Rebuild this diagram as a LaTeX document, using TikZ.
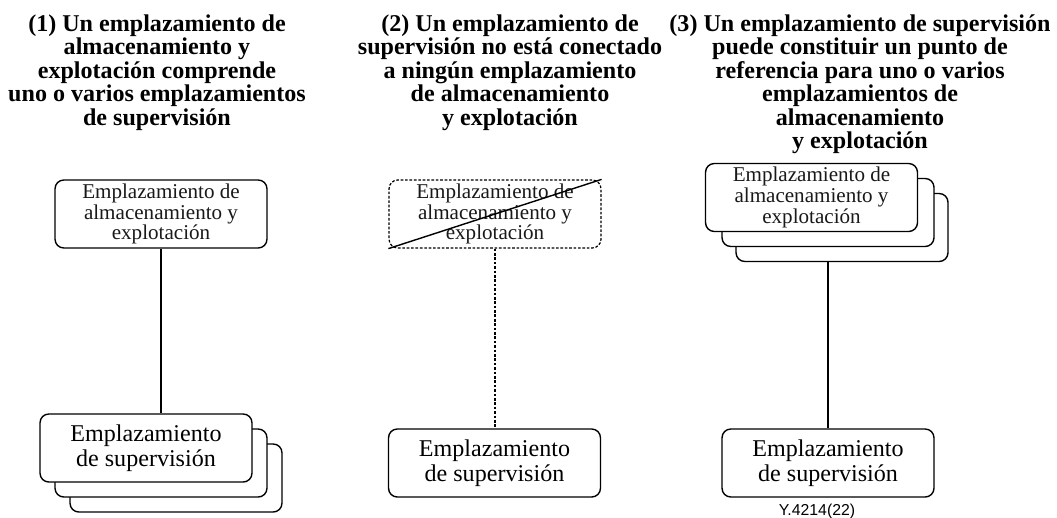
\documentclass[tikz,border=0pt]{standalone}
\usepackage{fontspec}
\setmainfont{Liberation Serif}
\newfontfamily\codefont{Liberation Sans}

\tikzset{
	site/.style={draw,rounded corners=5pt,fill=white,line width=0.8pt,minimum width=4.24cm,minimum height=1.36cm,align=center,inner sep=0pt},
	storesite/.style={site,text=black!90,font=\fontsize{12}{10.8}\selectfont},
	supsite/.style={site,font=\fontsize{13.7}{14.2}\selectfont},
	heading/.style={align=center,inner sep=0pt,anchor=north,font=\bfseries\fontsize{13.7}{13.4}\selectfont},
	dotline/.style={dash pattern=on 1.5pt off 1pt,line width=0.7pt}
}

\begin{document}
\begin{tikzpicture}[x=0.02cm,y=-0.02cm]
	\useasboundingbox (0,0) rectangle (1057,517);

	% (1)
	\node[heading] (title1) at (157,14) {(1) Un emplazamiento de\\almacenamiento y\\explotación comprende\\uno o varios emplazamientos\\de supervisión};
	\node[storesite] (store1) at (161,214) {Emplazamiento de\\almacenamiento y\\explotación};
	\node[supsite] (sup1c) at (176,478) {};
	\node[supsite] (sup1b) at (161,463) {};
	\node[supsite] (sup1a) at (146,448) {Emplazamiento\\de supervisión};
	\draw[line width=0.8pt] (store1.south) -- (store1.south |- sup1a.north);

	% (2)
	\node[heading] (title2) at (510,14) {(2) Un emplazamiento de\\supervisión no está conectado\\a ningún emplazamiento\\de almacenamiento\\y explotación};
	\node[storesite,dotline] (store2) at (495,214) {Emplazamiento de\\almacenamiento y\\explotación};
	\draw[line width=0.8pt] (store2.south west) -- (store2.north east);
	\node[supsite] (sup2) at (494.5,463) {Emplazamiento\\de supervisión};
	\draw[dotline] (store2.south) -- (store2.south |- sup2.north);

	% (3)
	\node[heading] (title3) at (860,14) {(3) Un emplazamiento de supervisión\\puede constituir un punto de\\referencia para uno o varios\\emplazamientos de\\almacenamiento\\y explotación};
	\node[storesite] (store3c) at (842,227.5) {};
	\node[storesite] (store3b) at (828,212.5) {};
	\node[storesite] (store3a) at (811.5,197.5) {Emplazamiento de\\almacenamiento y\\explotación};
	\node[supsite] (sup3) at (828,463) {Emplazamiento\\de supervisión};
	\draw[line width=0.8pt] (sup3.north) -- (sup3.north |- store3c.south);

	\node[font=\codefont\fontsize{9}{10}\selectfont,anchor=base,inner sep=0pt] (code) at (817,515) {Y.4214(22)};

	%\draw[step=50,gray,ultra thin] (0,0) grid (1057,517);
\end{tikzpicture}
\end{document}
